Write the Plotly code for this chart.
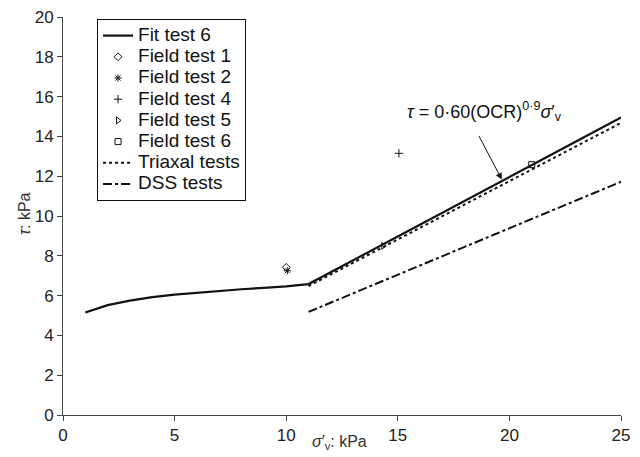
import plotly.graph_objects as go

# Fit test 6
fit_x = [1, 2, 3, 4, 5, 6, 7, 8, 9, 10, 11, 25]
fit_y = [5.15, 5.52, 5.75, 5.92, 6.05, 6.15, 6.24, 6.32, 6.39, 6.46, 6.58, 14.95]

# Field tests
ft1_x, ft1_y = [10.0], [7.42]
ft2_x, ft2_y = [10.05], [7.25]
ft4_x, ft4_y = [15.05], [13.15]
ft5_x, ft5_y = [14.35], [8.5]
ft6_x, ft6_y = [21.0], [12.58]

# Triaxal and DSS
tri_x, tri_y = [11, 25], [6.48, 14.68]
dss_x, dss_y = [11, 25], [5.18, 11.72]

x_ticks = [0, 5, 10, 15, 20, 25]
y_ticks = [0, 2, 4, 6, 8, 10, 12, 14, 16, 18, 20]

BLACK = "#111111"
FONT = "Liberation Sans, Arial, sans-serif"


def lg(name):
    return '<span style="font-size:19px">' + name + '</span>'


fig = go.Figure()
fig.add_trace(go.Scatter(x=fit_x, y=fit_y, mode="lines", name=lg("Fit test 6"),
                         line=dict(color=BLACK, width=2.2)))
mk = dict(color=BLACK, size=6, line=dict(color=BLACK, width=1))
fig.add_trace(go.Scatter(x=ft1_x, y=ft1_y, mode="markers", name=lg("Field test 1"),
                         marker=dict(symbol="diamond-open", **mk)))
fig.add_trace(go.Scatter(x=ft2_x, y=ft2_y, mode="markers", name=lg("Field test 2"),
                         marker=dict(symbol="asterisk-open", **mk)))
fig.add_trace(go.Scatter(x=ft4_x, y=ft4_y, mode="markers", name=lg("Field test 4"),
                         marker=dict(symbol="cross-thin-open", **mk)))
fig.add_trace(go.Scatter(x=ft5_x, y=ft5_y, mode="markers", name=lg("Field test 5"),
                         marker=dict(symbol="triangle-right-open", **mk)))
fig.add_trace(go.Scatter(x=ft6_x, y=ft6_y, mode="markers", name=lg("Field test 6"),
                         marker=dict(symbol="square-open", **mk)))
fig.add_trace(go.Scatter(x=tri_x, y=tri_y, mode="lines", name=lg("Triaxal tests"),
                         line=dict(color=BLACK, width=2, dash="dot")))
fig.add_trace(go.Scatter(x=dss_x, y=dss_y, mode="lines", name=lg("DSS tests"),
                         line=dict(color=BLACK, width=2, dash="dashdot")))

fig.add_annotation(x=18.9, y=15.25, xref="x", yref="y", showarrow=False,
                   text="<i>τ</i> = 0·60(OCR)<sup>0·9</sup><i>σ</i>′<sub>v</sub>",
                   font=dict(family=FONT, size=18, color=BLACK))
fig.add_annotation(x=19.66, y=11.83, xref="x", yref="y", ax=18.6, ay=14.1,
                   axref="x", ayref="y", text="", showarrow=True,
                   arrowhead=2, arrowsize=1.3, arrowwidth=1, arrowcolor=BLACK)

# axis titles as paper annotations for exact placement
fig.add_annotation(x=0.496, y=-0.068, xref="paper", yref="paper", showarrow=False,
                   xanchor="center", yanchor="middle",
                   text="<i>σ</i>′<sub>v</sub>: kPa",
                   font=dict(family=FONT, size=16, color="#333333"))
fig.add_annotation(x=-0.07, y=0.5075, xref="paper", yref="paper", showarrow=False,
                   xanchor="center", yanchor="middle", textangle=-90,
                   text="<i>τ</i>: kPa",
                   font=dict(family=FONT, size=16, color="#333333"))

axis_common = dict(showgrid=False, zeroline=False, showline=True, linecolor="#444444",
                   linewidth=1, ticks="outside", ticklen=5, tickcolor="#444444",
                   automargin=False, ticklabeloverflow="allow",
                   tickfont=dict(family=FONT, size=17, color="#222222"))
fig.update_xaxes(range=[0, 25], tickvals=x_ticks, **axis_common)
fig.update_yaxes(range=[0, 20], tickvals=y_ticks, **axis_common)

fig.update_layout(
    width=632, height=449,
    margin=dict(l=55, r=19, t=9, b=42),
    paper_bgcolor="white", plot_bgcolor="white",
    font=dict(family=FONT, color=BLACK),
    legend=dict(x=0.061, y=0.995, xanchor="left", yanchor="top",
                bordercolor=BLACK, borderwidth=1, bgcolor="white",
                font=dict(family=FONT, size=14, color=BLACK),
                tracegroupgap=0, itemwidth=30),
    showlegend=True,
)

fig.write_html("out.html")
